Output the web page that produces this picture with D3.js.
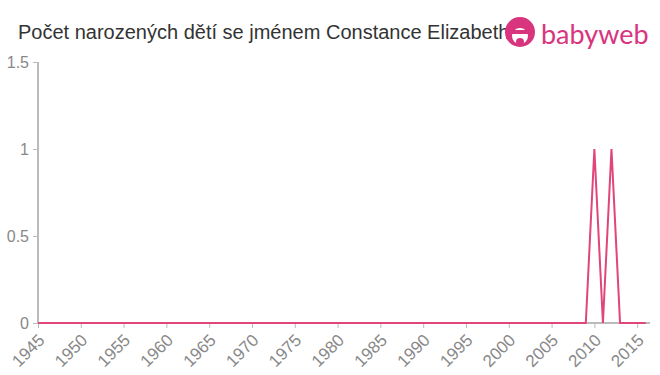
<!DOCTYPE html>
<html>
<head>
<meta charset="utf-8">
<script src="https://cdn.jsdelivr.net/npm/d3@7"></script>
<style>
  body { margin: 0; background: #fff; }
  svg { font-family: "Liberation Sans", Arial, sans-serif; }
</style>
</head>
<body>
<div id="chart-area"></div>
<script>
// years 1945..2016 and the births per year
var years = [1945, 1946, 1947, 1948, 1949, 1950, 1951, 1952, 1953, 1954,
    1955, 1956, 1957, 1958, 1959, 1960, 1961, 1962, 1963, 1964,
    1965, 1966, 1967, 1968, 1969, 1970, 1971, 1972, 1973, 1974,
    1975, 1976, 1977, 1978, 1979, 1980, 1981, 1982, 1983, 1984,
    1985, 1986, 1987, 1988, 1989, 1990, 1991, 1992, 1993, 1994,
    1995, 1996, 1997, 1998, 1999, 2000, 2001, 2002, 2003, 2004,
    2005, 2006, 2007, 2008, 2009, 2010, 2011, 2012, 2013, 2014,
    2015, 2016];
var births = [0, 0, 0, 0, 0, 0, 0, 0, 0, 0,
    0, 0, 0, 0, 0, 0, 0, 0, 0, 0,
    0, 0, 0, 0, 0, 0, 0, 0, 0, 0,
    0, 0, 0, 0, 0, 0, 0, 0, 0, 0,
    0, 0, 0, 0, 0, 0, 0, 0, 0, 0,
    0, 0, 0, 0, 0, 0, 0, 0, 0, 0,
    0, 0, 0, 0, 0, 1, 0, 1, 0, 0,
    0, 0];
var xTicks = [1945, 1950, 1955, 1960, 1965, 1970, 1975, 1980, 1985, 1990,
    1995, 2000, 2005, 2010, 2015];
var yTicks = [0, 0.5, 1, 1.5];
var title = "Počet narozených dětí se jménem Constance Elizabeth";

var width = 660, height = 375;
var svg = d3.select("#chart-area")
    .append("svg")
    .attr("width", width)
    .attr("height", height);

var x = d3.scaleLinear().domain([1945, 2016.5]).range([38, 650]);
var y = d3.scaleLinear().domain([0, 1.5]).range([323, 62]);

var data = years.map((yr, i) => ({year: yr, value: births[i]}));

// title
svg.append("text")
    .attr("x", 18)
    .attr("y", 39)
    .attr("font-size", 20)
    .attr("fill", "#333")
    .text(title);

// y axis
var yAxis = svg.append("g")
    .attr("transform", "translate(38,0)")
    .call(d3.axisLeft(y).tickValues(yTicks).tickSize(5).tickPadding(4)
        .tickFormat((d) => d));
yAxis.selectAll("text").attr("font-size", 16).attr("fill", "#888")
    .attr("font-family", "Liberation Sans, Arial, sans-serif");
yAxis.selectAll("line").attr("stroke", "#bbb");
yAxis.select(".domain").attr("stroke", "#bbb").attr("stroke-width", 2)
    .attr("d", "M0,62V323");

// x axis
var xAxis = svg.append("g")
    .attr("transform", "translate(0,323)")
    .call(d3.axisBottom(x).tickValues(xTicks).tickSize(5).tickFormat(d3.format("d")));
xAxis.selectAll("line").attr("stroke", "#bbb");
xAxis.select(".domain").attr("stroke", "#bbb").attr("stroke-width", 2)
    .attr("d", "M38,0H650");
xAxis.selectAll("text")
    .attr("font-size", 17)
    .attr("fill", "#888")
    .attr("font-family", "Liberation Sans, Arial, sans-serif")
    .attr("text-anchor", "end")
    .attr("y", 0)
    .attr("dy", "0.35em")
    .attr("transform", "translate(3,14) rotate(-45)");

// line
var line = d3.line()
    .x((d) => x(d.year))
    .y((d) => y(d.value));
svg.append("path")
    .datum(data)
    .attr("fill", "none")
    .attr("stroke", "#e0457b")
    .attr("stroke-width", 2)
    .attr("d", line);

// logo
var logo = svg.append("g");
logo.append("circle").attr("cx", 520).attr("cy", 32).attr("r", 15).attr("fill", "#d9347e");
logo.append("circle").attr("cx", 520).attr("cy", 36).attr("r", 8).attr("fill", "#fff");
logo.append("rect").attr("x", 509).attr("y", 30).attr("width", 22).attr("height", 4).attr("fill", "#d9347e");
logo.append("circle").attr("cx", 520).attr("cy", 42).attr("r", 4).attr("fill", "#d9347e");
logo.append("text")
    .attr("x", 541)
    .attr("y", 44)
    .attr("font-size", 27)
    .attr("fill", "#d9347e")
    .attr("font-family", "Lato, sans-serif")
    .text("babyweb");
</script>
</body>
</html>
